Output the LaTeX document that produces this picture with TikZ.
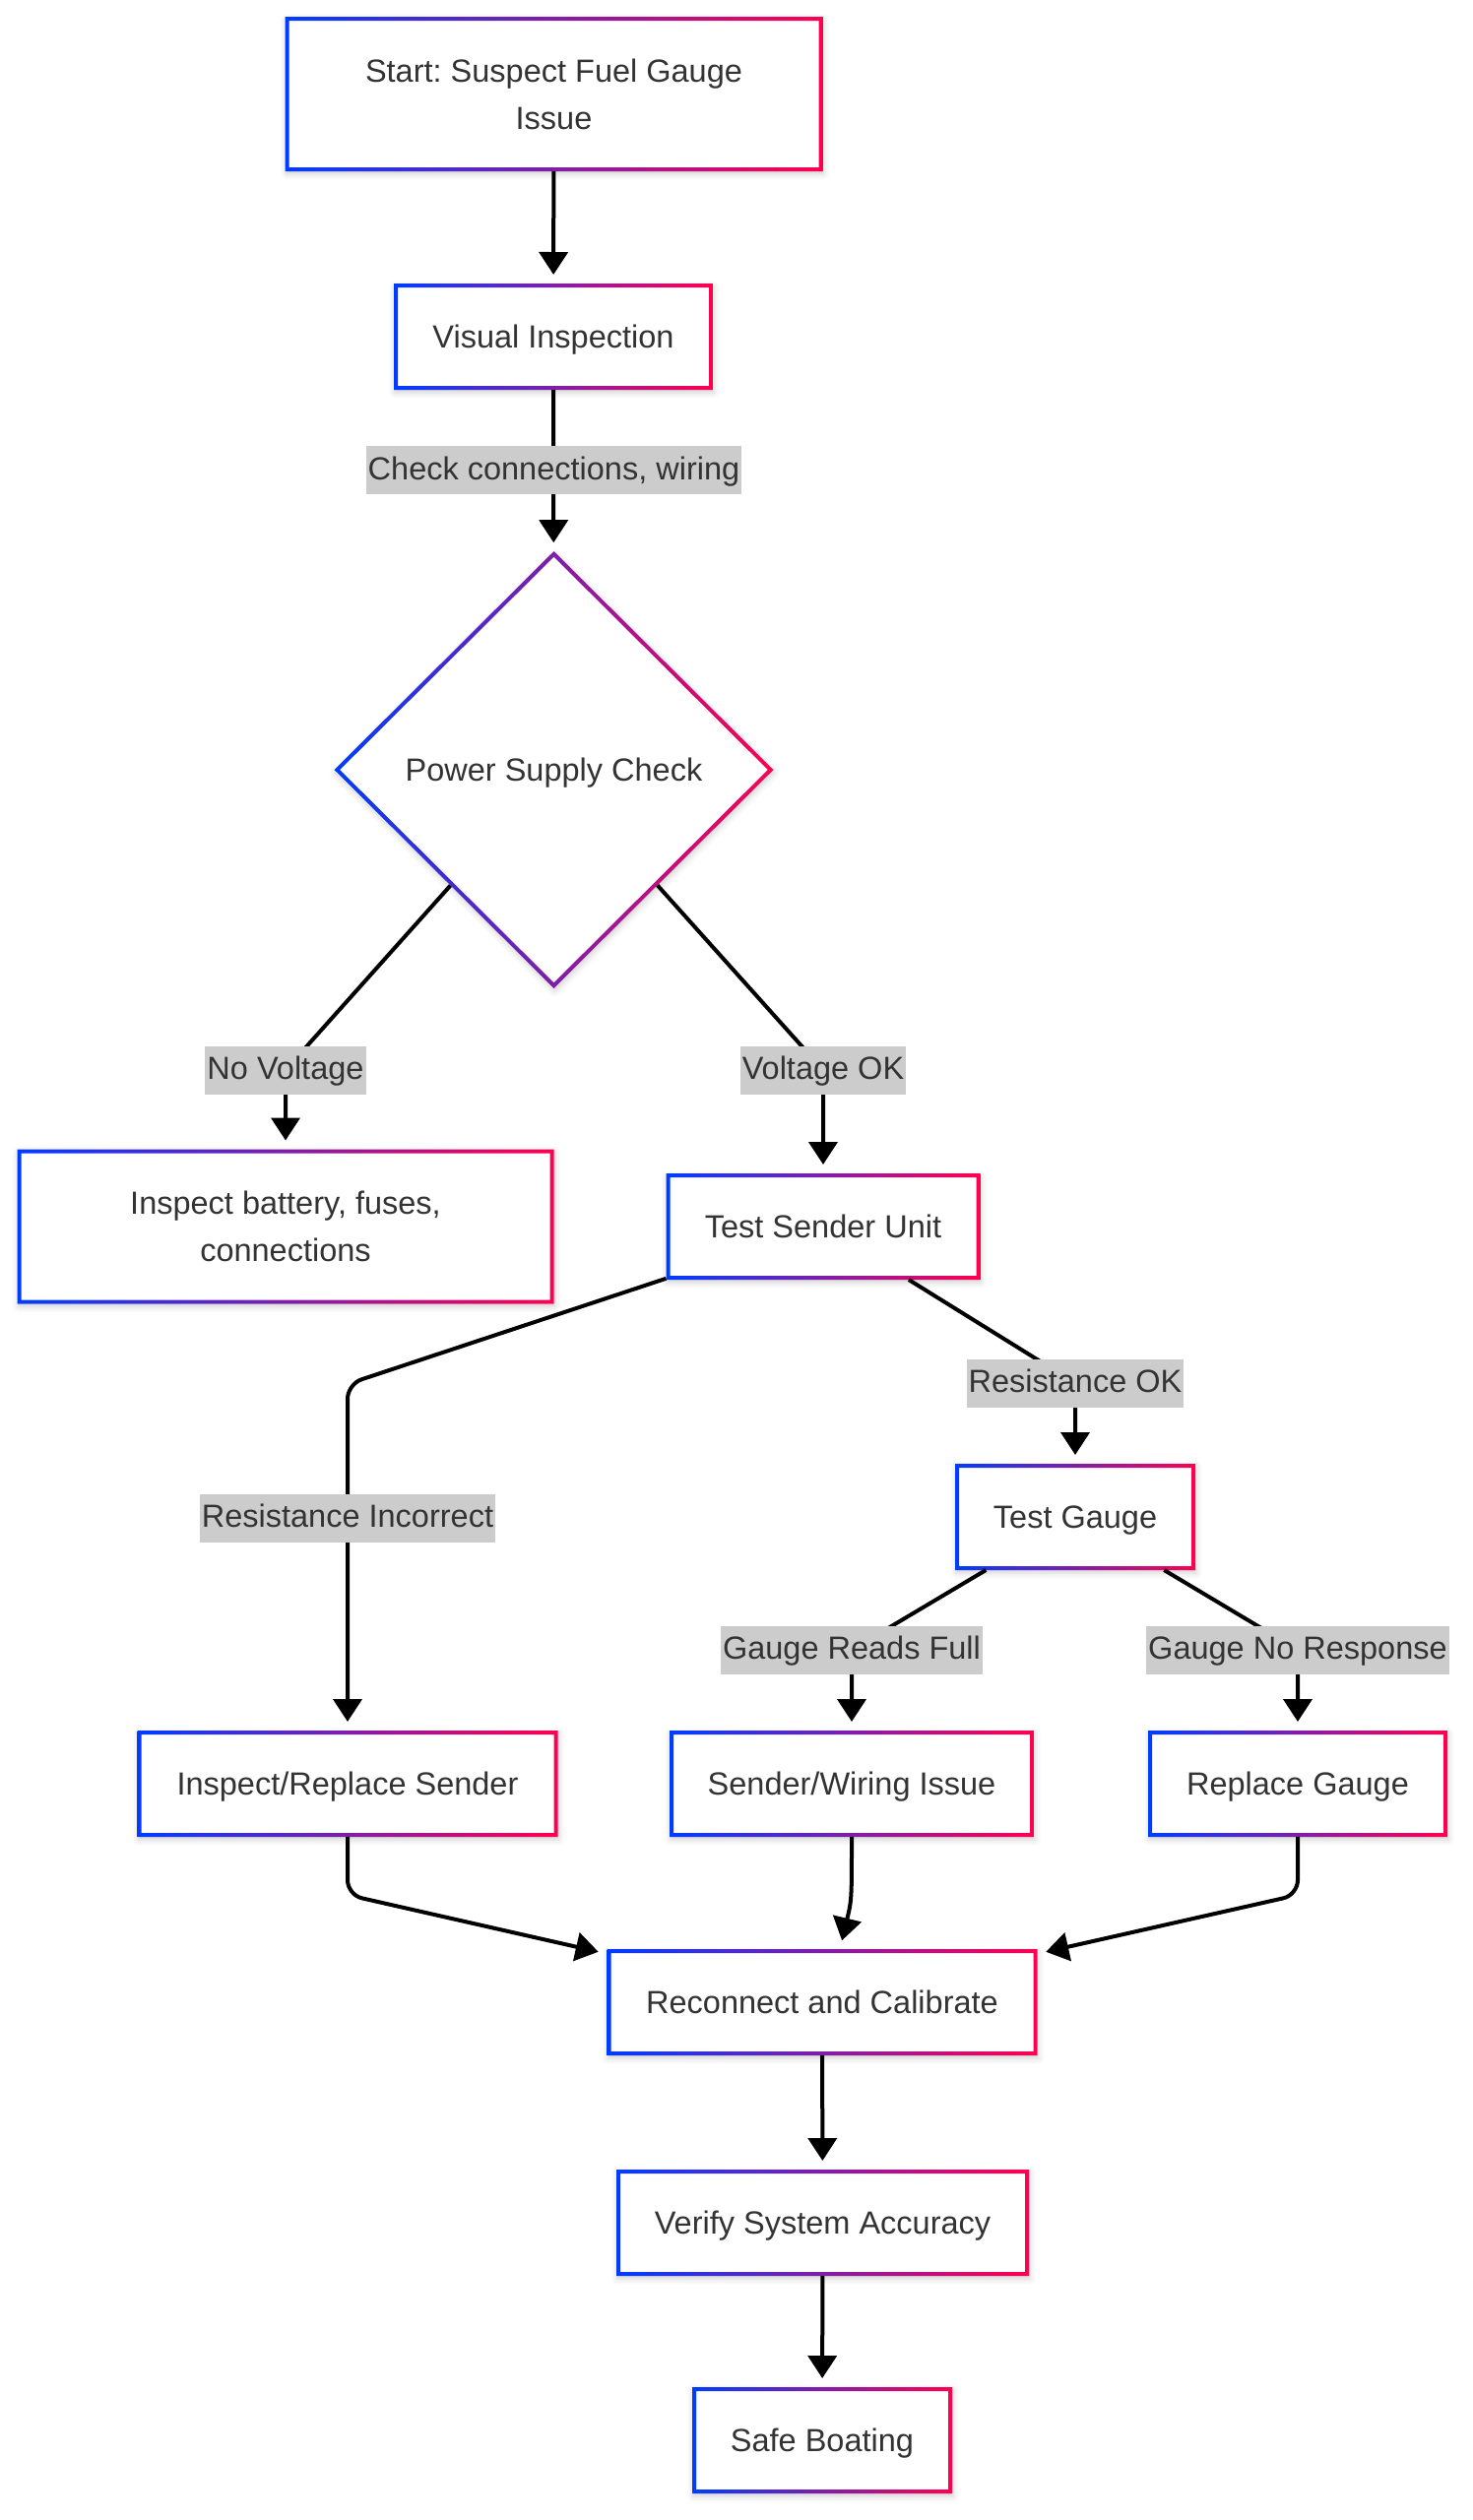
\documentclass[tikz,border=0pt]{standalone}
\usepackage{fontspec}
\setmainfont{Liberation Sans}
\usetikzlibrary{arrows.meta,shapes.geometric,shadows.blur}
\definecolor{gblue}{RGB}{0,60,255}
\definecolor{gred}{RGB}{255,0,80}
\definecolor{txt}{RGB}{51,51,51}
\definecolor{lblgray}{RGB}{204,204,204}
\frenchspacing
\newcommand\mfont{\fontsize{16.25pt}{24pt}\selectfont}
\newcommand\gradring[1]{%
  \shade[left color=gblue,right color=gred,even odd rule]
    (#1.south west) rectangle (#1.north east)
    ([shift={(4,4)}]#1.north west) rectangle ([shift={(-4,-4)}]#1.south east);}
\begin{document}
\begin{tikzpicture}[x=0.5pt,y=-0.5pt,
  shd/.style={blur shadow={shadow xshift=0.5pt,shadow yshift=-1.5pt,shadow blur radius=3pt,shadow opacity=18}},
  box/.style={rectangle,fill=white,inner sep=0pt,outer sep=0pt,minimum height=54pt,font=\mfont,text=txt,shd},
  one/.style={text height=11.6pt,text depth=0pt},
  lbl/.style={fill=lblgray,text=txt,font=\mfont,inner xsep=1pt,inner ysep=0pt,text height=17pt,text depth=7.5pt},
  arr/.style={draw=black,line width=2pt,-{Triangle[length=11.5pt,width=14.5pt]},shorten >=4.5pt},
]
\useasboundingbox (0,0) rectangle (1495,2560);
% nodes
\node[box,align=center,minimum width=273pt,minimum height=78.5pt] (start) at (562.5,95.5) {Start: Suspect Fuel Gauge\\Issue};
\node[box,one,minimum width=162pt] (vis) at (562,342) {Visual Inspection};
\node[diamond,shape aspect=1,fill=white,inner sep=0pt,outer sep=0pt,minimum width=223pt,minimum height=222pt,font=\mfont,text=txt,one,shd] (psc) at (562.5,782) {Power Supply Check};
\node[box,align=center,minimum width=272.5pt,minimum height=78.5pt] (ib) at (290,1246) {Inspect battery, fuses,\\connections};
\node[box,one,minimum width=159.5pt] (tsu) at (836,1246) {Test Sender Unit};
\node[box,one,minimum width=122pt] (tg) at (1092,1541) {Test Gauge};
\node[box,one,minimum width=213.5pt] (irs) at (353,1812) {Inspect/Replace Sender};
\node[box,one,minimum width=185pt] (swi) at (865,1812) {Sender/Wiring Issue};
\node[box,one,minimum width=152pt] (rg) at (1318,1812) {Replace Gauge};
\node[box,one,minimum width=218.5pt] (rc) at (835,2034) {Reconnect and Calibrate};
\node[box,one,minimum width=209.5pt] (vsa) at (835.5,2258) {Verify System Accuracy};
\node[box,one,minimum width=132pt] (sb) at (835,2479) {Safe Boating};
% gradient borders
\foreach \n in {start,vis,ib,tsu,tg,irs,swi,rg,rc,vsa,sb}{\gradring{\n}}
\shade[left color=gblue,right color=gred,even odd rule]
  (psc.north) -- (psc.east) -- (psc.south) -- (psc.west) -- cycle
  ([yshift=-2.83pt]psc.north) -- ([xshift=-2.83pt]psc.east) -- ([yshift=2.83pt]psc.south) -- ([xshift=2.83pt]psc.west) -- cycle;
% label points
\coordinate (l1) at (562.5,477.5);
\coordinate (l2) at (290,1087);
\coordinate (l3) at (836,1087);
\coordinate (l4) at (1092,1405);
\coordinate (l5) at (353,1542);
\coordinate (l6) at (865,1676);
\coordinate (l7) at (1318,1676);
\coordinate (c2) at (353,1406);
\coordinate (c3) at (353,1925);
\coordinate (c4) at (1318,1925);
% edges
\draw[arr] (start) -- (vis);
\draw[arr] (vis) -- (psc);
\draw[arr] (psc) -- (l2) -- (ib);
\draw[arr] (psc) -- (l3) -- (tsu);
\draw[arr,rounded corners=7.5pt] (tsu) -- (c2) -- (irs);
\draw[arr] (tsu) -- (l4) -- (tg);
\draw[arr] (tg) -- (l6) -- (swi);
\draw[arr] (tg) -- (l7) -- (rg);
\draw[arr,rounded corners=7.5pt] (irs) -- (c3) -- (rc);
\draw[arr,rounded corners=7.5pt] (rg) -- (c4) -- (rc);
\draw[arr] (swi.south) .. controls (865,1930) .. ([xshift=9pt]rc.north);
\draw[arr] (rc) -- (vsa);
\draw[arr] (vsa) -- (sb);
% edge labels
\node[lbl] (t1) at (l1) {Check connections, wiring};
\node[lbl] (t2) at (l2) {No Voltage};
\node[lbl] (t3) at (l3) {Voltage OK};
\node[lbl] (t4) at (l4) {Resistance OK};
\node[lbl] (t5) at (l5) {Resistance Incorrect};
\node[lbl] (t6) at (l6) {Gauge Reads Full};
\node[lbl] (t7) at (l7) {Gauge No Response};
\end{tikzpicture}
\end{document}
